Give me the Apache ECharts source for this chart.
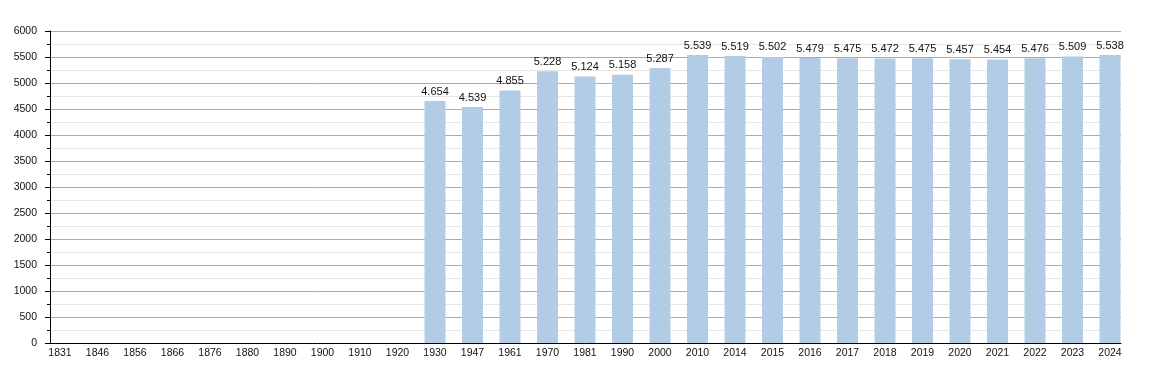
<!DOCTYPE html>
<html><head><meta charset="utf-8">
<script src="https://cdn.jsdelivr.net/npm/echarts@6/dist/echarts.min.js"></script>
<style>html,body{margin:0;padding:0;background:#fff}#c{width:1150px;height:373px}</style>
</head><body><div id="c"></div>
<script>
var years = ['1831','1846','1856','1866','1876','1880','1890','1900','1910','1920','1930','1947','1961','1970','1981','1990','2000','2010','2014','2015','2016','2017','2018','2019','2020','2021','2022','2023','2024'];
var population = [null,null,null,null,null,null,null,null,null,null,4654,4539,4855,5228,5124,5158,5287,5539,5519,5502,5479,5475,5472,5475,5457,5454,5476,5509,5538];
var yTicks = [0,500,1000,1500,2000,2500,3000,3500,4000,4500,5000,5500,6000];

var font = '"Liberation Sans", Arial, sans-serif';
var barData = [];
for (var i = 0; i < years.length; i++) {
  if (population[i] != null) barData.push([i, population[i]]);
}
var idx = years.map(function(_, i){ return i; });
function fmt(v){ var s = String(v); return s.length > 3 ? s.slice(0, s.length-3) + '.' + s.slice(s.length-3) : s; }

var chart = echarts.init(document.getElementById('c'), null, {renderer:'canvas'});
chart.setOption({
  animation: false,
  grid: {left: 50, right: 29, top: 31, bottom: 30, containLabel: false},
  xAxis: {
    type: 'value',
    min: -0.2667, max: 28.293,
    splitLine: {show: false},
    axisLine: {show: true, onZero: false, lineStyle: {color: '#000', width: 1}},
    axisTick: {show: false},
    axisLabel: {
      customValues: idx,
      showMinLabel: true, showMaxLabel: true,
      formatter: function(v){ return years[Math.round(v)]; },
      color: '#111', fontFamily: font, fontSize: 10.5, margin: 5
    }
  },
  yAxis: {
    type: 'value', min: 0, max: 6000, interval: 500,
    axisLine: {show: true, onZero: false, lineStyle: {color: '#000', width: 1}},
    axisTick: {show: true, length: 5, lineStyle: {color: '#000'}},
    minorTick: {show: true, splitNumber: 2, length: 3, lineStyle: {color: '#000'}},
    splitLine: {show: true, lineStyle: {color: '#aaaaaa', width: 1}},
    minorSplitLine: {show: true, lineStyle: {color: '#e6e6e6', width: 1}},
    axisLabel: {customValues: yTicks, color: '#111', fontFamily: font, fontSize: 10.5, margin: 13,
      formatter: function(v){ return String(v); }}
  },
  series: [{
    type: 'bar',
    data: barData,
    barWidth: 21,
    itemStyle: {color: '#b3cce6'},
    label: {show: true, position: 'top', distance: 4, color: '#111', fontFamily: font, fontSize: 11,
      formatter: function(p){ return fmt(p.value[1]); }}
  }]
});
</script></body></html>
